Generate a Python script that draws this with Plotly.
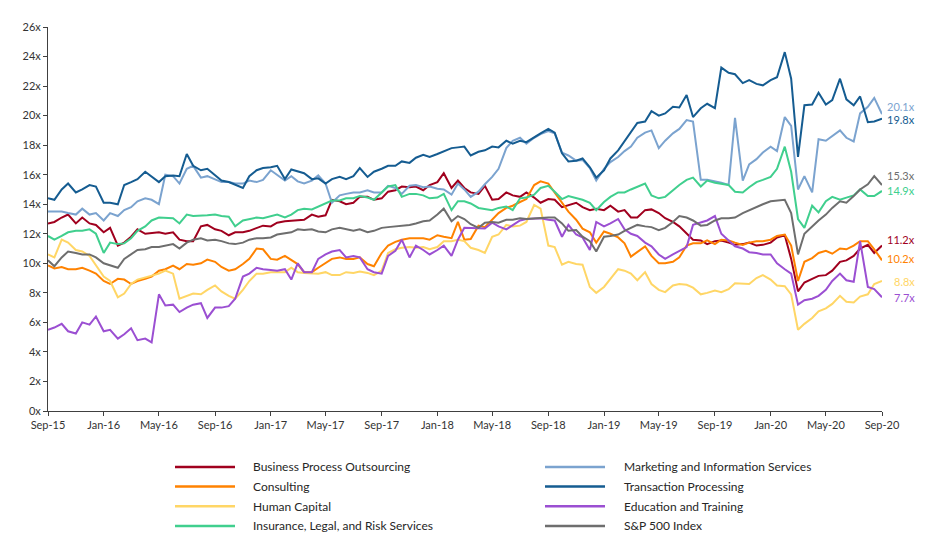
import pandas as pd
import plotly.graph_objects as go

# ---------------- data (semi-monthly readings, Sep-2015 .. Sep-2020) ----------------
DATES = pd.date_range("2015-09-01", "2020-09-01", freq="SMS")

TICK_LABELS = ["Sep-15", "Jan-16", "May-16", "Sep-16", "Jan-17", "May-17", "Sep-17", "Jan-18",
               "May-18", "Sep-18", "Jan-19", "May-19", "Sep-19", "Jan-20", "May-20", "Sep-20"]
TICK_DATES = pd.date_range("2015-09-01", "2020-09-01", freq="4MS")

business_process_outsourcing = [
    12.7, 12.8, 13.1, 13.3, 12.7, 13.1, 12.7, 12.6, 12.1, 12.4, 11.2, 11.4, 11.8, 12.3, 12.0, 12.05,
    12.1, 12.0, 12.1, 11.6, 11.5, 11.5, 12.5, 12.6, 12.3, 12.2, 11.9, 12.1, 12.1, 12.2, 12.4,
    12.55, 12.5, 12.75, 12.85, 12.9, 12.95, 12.95, 13.3, 13.15, 13.25, 14.3, 14.2, 14.0, 14.1, 14.5,
    14.5, 14.3, 14.4, 14.85, 14.95, 15.2, 15.15, 15.2, 14.95, 15.3, 15.5, 16.1, 15.1, 15.6, 15.1,
    14.8, 14.7, 15.25, 14.3, 14.35, 14.8, 14.6, 14.5, 14.8, 14.45, 14.1, 14.35, 14.3, 13.8, 13.95,
    14.1, 13.8, 13.6, 13.7, 13.6, 13.9, 13.5, 13.6, 13.1, 13.1, 13.6, 13.65, 13.4, 13.05, 12.8,
    12.5, 12.05, 11.6, 11.55, 11.3, 11.5, 11.55, 11.4, 11.25, 11.3, 11.4, 11.2, 11.25, 11.4, 11.75,
    11.9, 10.3, 8.1, 8.7, 8.95, 9.15, 9.2, 9.5, 10.1, 10.2, 10.5, 11.0, 11.25, 10.7, 11.2]

marketing_information = [
    13.5, 13.5, 13.5, 13.4, 13.3, 13.7, 13.3, 13.4, 12.9, 13.4, 13.2, 13.6, 13.8, 14.2, 14.4, 14.3,
    14.0, 16.0, 15.9, 15.4, 16.4, 16.6, 15.8, 15.9, 15.7, 15.5, 15.5, 15.4, 15.4, 15.6, 15.5,
    15.65, 16.3, 16.0, 15.6, 15.9, 15.55, 15.4, 15.6, 15.95, 15.4, 14.1, 14.6, 14.7, 14.8, 14.8,
    14.95, 14.8, 14.8, 15.25, 15.1, 14.7, 15.25, 15.3, 15.15, 15.2, 15.05, 15.0, 14.65, 15.4, 15.0,
    14.5, 14.85, 15.35, 15.85, 16.4, 17.8, 18.3, 18.5, 18.1, 18.5, 18.75, 18.95, 18.8, 17.5, 17.3,
    16.95, 17.0, 16.45, 15.6, 16.4, 16.85, 17.2, 17.6, 17.9, 18.5, 18.85, 19.0, 17.8, 18.3, 18.8,
    19.1, 19.7, 19.6, 15.65, 15.65, 15.55, 15.45, 15.3, 19.85, 15.6, 16.7, 17.05, 17.5, 17.9, 17.6,
    19.9, 19.3, 15.0, 15.9, 14.8, 18.4, 18.3, 18.6, 19.0, 18.5, 18.25, 20.15, 20.6, 21.2, 20.1]

consulting = [
    9.85, 9.65, 9.75, 9.6, 9.6, 9.7, 9.5, 9.3, 8.8, 8.6, 8.95, 8.9, 8.6, 8.8, 8.95, 9.1,
    9.5, 9.6, 9.85, 9.6, 9.95, 9.9, 10.0, 10.25, 10.1, 9.75, 9.5, 9.6, 9.95, 10.3, 11.0,
    10.95, 10.3, 10.25, 10.5, 10.2, 9.95, 9.4, 9.4, 9.7, 10.0, 10.3, 10.4, 10.3, 10.3, 10.4,
    9.95, 9.8, 10.7, 11.2, 11.45, 11.6, 11.7, 11.7, 11.7, 11.6, 11.9, 11.8, 11.7, 12.8, 11.6,
    11.65, 12.55, 12.45, 12.95, 13.4, 13.75, 13.9, 14.15, 14.35, 15.3, 15.55, 15.4, 14.8, 14.1, 13.5,
    12.95, 12.35, 12.1, 11.4, 12.15, 12.0, 11.75, 11.35, 10.45, 10.75, 11.15, 10.5, 10.0, 10.0, 10.1,
    10.4, 11.2, 11.35, 11.35, 11.55, 11.3, 11.6, 11.55, 11.4, 11.25, 11.4, 11.5, 11.5, 11.6, 11.85,
    11.95, 11.2, 8.8, 10.1, 10.35, 10.7, 10.85, 10.65, 11.0, 10.95, 11.2, 11.5, 11.5, 10.95, 10.2]

transaction_processing = [
    14.4, 14.3, 15.0, 15.4, 14.8, 15.0, 15.3, 15.2, 14.1, 14.1, 14.0, 15.3, 15.5, 15.7, 16.2, 15.9,
    15.5, 15.9, 15.95, 15.9, 17.4, 16.6, 16.3, 16.4, 15.95, 15.6, 15.5, 15.3, 15.1, 15.9, 16.3,
    16.45, 16.5, 16.6, 15.7, 16.35, 16.25, 16.1, 15.7, 15.75, 15.4, 15.7, 15.85, 15.7, 15.9, 16.45,
    15.85, 16.2, 16.4, 16.6, 16.6, 16.9, 16.8, 17.15, 17.35, 17.2, 17.4, 17.6, 17.8, 17.85, 17.9,
    17.3, 17.55, 17.65, 17.9, 17.85, 18.3, 18.1, 18.3, 18.2, 18.55, 18.8, 19.1, 18.85, 17.45, 16.9,
    16.95, 17.1, 16.5, 15.8, 16.3, 17.1, 17.65, 18.25, 18.9, 19.5, 19.6, 20.3, 20.0, 20.15, 20.6,
    20.55, 21.4, 19.9, 20.5, 20.8, 20.5, 23.25, 22.9, 22.8, 22.2, 22.4, 22.15, 22.05, 22.4, 22.6,
    24.3, 22.5, 17.2, 20.7, 20.75, 21.55, 20.75, 21.05, 22.5, 21.1, 20.7, 21.3, 19.55, 19.6, 19.8]

human_capital = [
    10.6, 10.4, 11.6, 11.4, 10.9, 10.8, 10.5, 9.9, 9.1, 8.8, 7.7, 7.95, 8.6, 8.9, 9.05, 9.2,
    9.3, 9.5, 9.3, 7.6, 7.8, 7.95, 7.9, 8.2, 8.5, 8.1, 7.8, 7.6, 8.2, 8.8, 9.3,
    9.3, 9.4, 9.4, 9.4, 9.7, 9.4, 9.35, 9.3, 9.3, 9.4, 9.2, 9.2, 9.4, 9.35, 9.45,
    9.35, 9.2, 9.5, 10.7, 10.95, 11.05, 11.1, 11.05, 11.1, 10.95, 11.1, 11.5, 11.5, 11.6, 11.5,
    11.05, 10.9, 10.7, 11.8, 11.95, 12.6, 12.5, 12.55, 12.8, 13.95, 13.7, 11.2, 11.1, 9.9, 10.1,
    9.95, 9.9, 8.4, 8.0, 8.4, 8.95, 9.6, 9.5, 9.3, 8.85, 9.4, 8.6, 8.2, 8.05, 8.5,
    8.6, 8.55, 8.35, 7.9, 8.0, 8.15, 8.05, 8.25, 8.65, 8.6, 8.6, 9.0, 9.2, 8.9, 8.5,
    8.45, 7.9, 5.5, 5.9, 6.3, 6.75, 6.95, 7.25, 7.8, 7.4, 7.35, 7.75, 7.9, 8.6, 8.8]

education_training = [
    5.5, 5.65, 5.9, 5.4, 5.25, 6.0, 5.85, 6.4, 5.4, 5.5, 4.9, 5.2, 5.6, 4.8, 4.9, 4.65,
    7.9, 7.15, 7.2, 6.7, 7.0, 7.2, 7.3, 6.3, 7.0, 7.0, 7.1, 7.6, 9.1, 9.3, 9.7,
    9.6, 9.55, 9.5, 9.6, 8.9, 10.0, 9.4, 9.4, 10.3, 10.6, 10.8, 10.9, 10.4, 10.5, 10.4,
    9.6, 9.4, 9.3, 10.5, 10.85, 11.6, 10.4, 11.2, 10.9, 10.6, 10.9, 11.2, 10.5, 11.6, 12.4,
    12.4, 12.4, 12.35, 12.75, 12.5, 12.3, 12.6, 12.9, 13.0, 13.05, 13.05, 12.95, 12.9, 11.8, 12.6,
    11.95, 11.75, 10.9, 12.8, 12.5, 12.7, 13.0, 12.3, 12.0, 11.85, 11.4, 11.15, 10.6, 10.3, 10.6,
    10.85, 11.1, 12.6, 12.75, 12.9, 13.2, 12.0, 11.55, 11.15, 11.0, 10.75, 10.7, 10.6, 10.6, 10.0,
    9.6, 9.3, 7.2, 7.5, 7.6, 7.8, 8.2, 8.8, 9.3, 8.85, 8.75, 11.5, 8.4, 8.25, 7.7]

insurance_legal_risk = [
    11.85, 11.6, 11.85, 12.1, 12.2, 12.2, 12.3, 12.0, 10.7, 11.4, 11.3, 11.35, 11.7, 12.2, 12.5, 12.9,
    13.1, 13.1, 13.05, 12.7, 13.3, 13.2, 13.2, 13.25, 13.3, 13.2, 13.15, 12.5, 12.9, 13.0, 13.1,
    13.05, 13.2, 13.3, 13.1, 13.3, 13.6, 13.7, 13.65, 13.85, 14.05, 14.25, 14.25, 14.4, 14.4, 14.55,
    14.45, 14.3, 14.8, 15.2, 15.3, 14.5, 14.7, 14.7, 14.6, 14.4, 14.45, 14.7, 13.6, 14.2, 14.2,
    14.05, 13.75, 13.7, 13.6, 13.75, 13.85, 13.6, 14.4, 14.45, 14.65, 15.1, 15.25, 14.85, 14.35, 14.55,
    14.4, 14.3, 14.1, 13.6, 14.15, 14.5, 14.8, 14.8, 15.0, 15.2, 15.4, 14.6, 14.4, 14.5, 14.95,
    15.3, 15.65, 15.8, 15.2, 15.6, 15.45, 15.4, 15.3, 14.85, 14.8, 15.15, 15.5, 15.65, 15.85, 16.4,
    17.9, 16.2, 13.0, 12.4, 13.9, 13.45, 14.2, 14.5, 14.3, 14.45, 14.6, 15.0, 14.55, 14.55, 14.9]

sp500_index = [
    10.2, 9.8, 10.4, 10.8, 10.7, 10.6, 10.6, 10.4, 10.0, 9.85, 9.7, 10.3, 10.6, 10.9, 10.95, 11.1,
    11.1, 11.2, 11.3, 11.0, 11.4, 11.6, 11.7, 11.55, 11.6, 11.5, 11.35, 11.3, 11.4, 11.6, 11.7,
    11.7, 11.75, 11.95, 12.05, 12.1, 12.3, 12.25, 12.3, 12.15, 12.1, 12.3, 12.4, 12.3, 12.2, 12.3,
    12.1, 12.2, 12.4, 12.45, 12.5, 12.5, 12.6, 12.7, 12.85, 12.9, 13.3, 13.7, 12.85, 13.2, 13.0,
    12.65, 12.4, 12.75, 12.8, 12.75, 12.95, 12.95, 13.05, 13.0, 13.05, 13.05, 13.1, 13.1, 12.7, 12.2,
    12.25, 11.8, 11.5, 10.8, 11.8, 11.85, 11.95, 12.2, 12.4, 12.6, 12.5, 12.45, 12.25, 12.4, 12.8,
    13.2, 13.1, 12.9, 12.55, 12.6, 12.9, 13.05, 13.05, 13.1, 13.4, 13.6, 13.8, 14.0, 14.2, 14.25,
    14.3, 13.4, 10.6, 12.0, 12.5, 12.9, 13.3, 13.75, 14.2, 14.1, 14.55, 15.0, 15.35, 15.9, 15.3]

SERIES_NAMES = ["Business Process Outsourcing", "Marketing and Information Services", "Consulting",
                "Transaction Processing", "Human Capital", "Education and Training",
                "Insurance, Legal, and Risk Services", "S&P 500 Index"]
SERIES_VALUES = [business_process_outsourcing, marketing_information, consulting,
                 transaction_processing, human_capital, education_training,
                 insurance_legal_risk, sp500_index]

# ---------------- styles ----------------
COLORS = ["#A0001E", "#7BA3CF", "#FF8200", "#155C91", "#FFD666", "#9B4FD2", "#40CF8E", "#6E6E6E"]
# vertical nudge (px) of each end label, to keep labels apart
LABEL_SHIFT = [6.5, 7.5, 1.4, -1.0, -0.9, 0, 0.7, 9.7]
FONT = "Lato, 'Open Sans', sans-serif"
TEXT_COLOR = "#333333"

# the page body has an 8px margin on every side: keep the figure inside the window
OFF = 8
W, H = 935 - 2 * OFF, 549 - 2 * OFF
SCREEN_LEFT, SCREEN_RIGHT, SCREEN_TOP, SCREEN_BOTTOM = 48, 882, 20, 411
L = SCREEN_LEFT - OFF
R = W - (SCREEN_RIGHT - OFF)
T = SCREEN_TOP - OFF
B = H - (SCREEN_BOTTOM - OFF)
PW, PH = W - L - R, H - T - B

def px_x(px):  # screen px -> paper x
    return (px - SCREEN_LEFT) / PW

def px_y(py):  # screen px -> paper y
    return (SCREEN_BOTTOM - py) / PH

fig = go.Figure()
for name, vals, col in zip(SERIES_NAMES, SERIES_VALUES, COLORS):
    fig.add_trace(go.Scatter(x=DATES, y=vals, mode="lines", name=name,
                             line=dict(color=col, width=2), showlegend=False))

annotations = []
# end-of-series labels
for vals, col, shift in zip(SERIES_VALUES, COLORS, LABEL_SHIFT):
    annotations.append(dict(xref="paper", yref="y", x=px_x(917), y=vals[-1], yshift=shift,
                            text=f"{vals[-1]:.1f}x", showarrow=False, xanchor="right",
                            yanchor="middle", font=dict(family=FONT, size=11, color=col)))

# custom two-column legend
shapes = []
legend_cols = [(175, 235, 251), (545, 605, 622)]
legend_rows = [468, 488, 508, 528]
for i, (name, col) in enumerate(zip(SERIES_NAMES, COLORS)):
    c = i % 2
    r = i // 2
    x0, x1, xt = legend_cols[c]
    yy = legend_rows[r]
    shapes.append(dict(type="line", xref="paper", yref="paper", x0=px_x(x0), x1=px_x(x1),
                       y0=px_y(yy), y1=px_y(yy), line=dict(color=col, width=2.5)))
    annotations.append(dict(xref="paper", yref="paper", x=px_x(xt), y=px_y(yy), text=name,
                            showarrow=False, xanchor="left", yanchor="middle",
                            font=dict(family=FONT, size=12, color="#262626")))

fig.update_layout(
    width=W, height=H, margin=dict(l=L, r=R, t=T, b=B),
    paper_bgcolor="white", plot_bgcolor="white",
    font=dict(family=FONT, size=11, color=TEXT_COLOR),
    shapes=shapes, annotations=annotations, showlegend=False,
    xaxis=dict(type="date", range=[DATES[0], DATES[-1]], tickvals=list(TICK_DATES),
               ticktext=TICK_LABELS, showgrid=False, zeroline=False, showline=True,
               linecolor="#404040", linewidth=1, ticks="outside", ticklen=4,
               tickcolor="#404040", tickfont=dict(family=FONT, size=11, color=TEXT_COLOR)),
    yaxis=dict(range=[0, 26], dtick=2, tick0=0, ticksuffix="x", showgrid=False, zeroline=False,
               showline=True, linecolor="#404040", linewidth=1, ticks="outside", ticklen=4,
               tickcolor="#404040", tickfont=dict(family=FONT, size=11, color=TEXT_COLOR)),
)

fig.write_html("out.html")
